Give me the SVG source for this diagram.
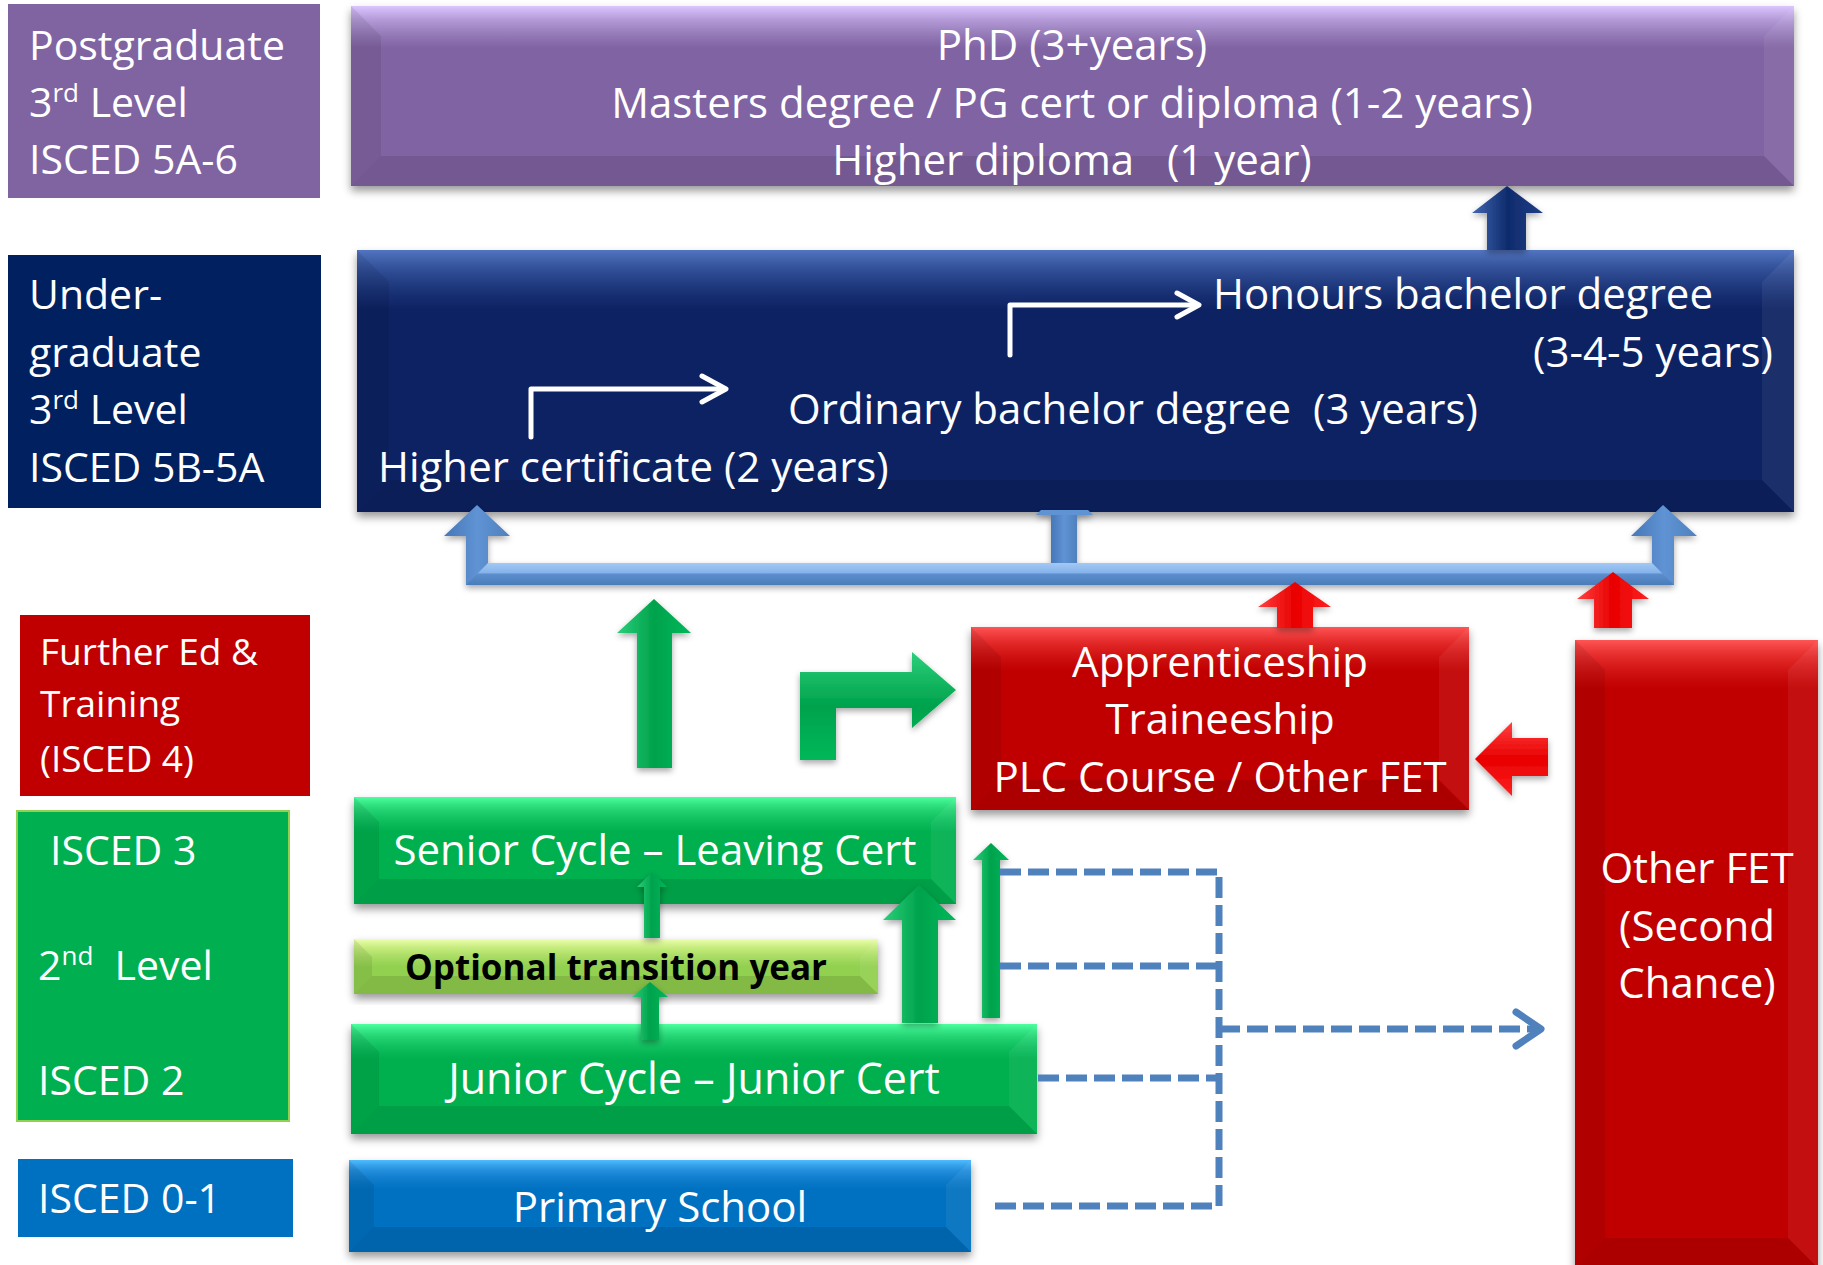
<svg xmlns="http://www.w3.org/2000/svg" width="1823" height="1265" viewBox="0 0 1823 1265">
<defs>
<style>
text{font-family:"Open Sans","Noto Sans","Liberation Sans",sans-serif;fill:#fff;font-size:42px}
.l{font-size:41px}
.c{text-anchor:middle}
.e{text-anchor:end}
.s{font-size:37px}
.b{font-weight:700;font-size:35px;fill:#000}
.sup{font-size:26px}
.dash{fill:none;stroke:#4F81BD;stroke-width:7;stroke-dasharray:21 7}
.chev{fill:none;stroke:#4F81BD;stroke-width:7;stroke-linecap:round;stroke-linejoin:round}
.wa{fill:none;stroke:#fff;stroke-width:5;stroke-linecap:round;stroke-linejoin:round}
.fl{fill:#000;opacity:.08}
.fr{fill:#fff;opacity:.06}
.fb{fill:#000;opacity:.1}
</style>
<filter id="sh" x="-5%" y="-10%" width="110%" height="130%"><feDropShadow dx="0" dy="5" stdDeviation="4" flood-color="#000" flood-opacity="0.4"/></filter>
<filter id="sh2" x="-10%" y="-10%" width="120%" height="130%"><feDropShadow dx="0" dy="3" stdDeviation="3" flood-color="#000" flood-opacity="0.35"/></filter>
<linearGradient id="bPur" x1="0" y1="0" x2="0" y2="1"><stop offset="0" stop-color="#DCC6FF"/><stop offset="0.35" stop-color="#C7B0EC" stop-opacity="0.7"/><stop offset="1" stop-color="#B69CDB" stop-opacity="0"/></linearGradient>
<linearGradient id="bNav" x1="0" y1="0" x2="0" y2="1"><stop offset="0" stop-color="#5275C2"/><stop offset="0.35" stop-color="#3E5FAA" stop-opacity="0.7"/><stop offset="1" stop-color="#2A4A96" stop-opacity="0"/></linearGradient>
<linearGradient id="bRed" x1="0" y1="0" x2="0" y2="1"><stop offset="0" stop-color="#FF5555"/><stop offset="0.35" stop-color="#F23A3A" stop-opacity="0.7"/><stop offset="1" stop-color="#E02020" stop-opacity="0"/></linearGradient>
<linearGradient id="bGrn" x1="0" y1="0" x2="0" y2="1"><stop offset="0" stop-color="#4DFF9E"/><stop offset="0.35" stop-color="#35E585" stop-opacity="0.7"/><stop offset="1" stop-color="#20D070" stop-opacity="0"/></linearGradient>
<linearGradient id="bOpt" x1="0" y1="0" x2="0" y2="1"><stop offset="0" stop-color="#EEFFB0"/><stop offset="0.35" stop-color="#D6F58C" stop-opacity="0.7"/><stop offset="1" stop-color="#C0E878" stop-opacity="0"/></linearGradient>
<linearGradient id="bBlu" x1="0" y1="0" x2="0" y2="1"><stop offset="0" stop-color="#50BCFF"/><stop offset="0.35" stop-color="#329BE8" stop-opacity="0.7"/><stop offset="1" stop-color="#1A86D6" stop-opacity="0"/></linearGradient>
<linearGradient id="aG" x1="0" y1="0" x2="1" y2="0"><stop offset="0" stop-color="#2BCF7A"/><stop offset="0.5" stop-color="#00A24C"/><stop offset="1" stop-color="#00B85A"/></linearGradient>
<linearGradient id="aGh" x1="0" y1="0" x2="0" y2="1"><stop offset="0" stop-color="#2BCF7A"/><stop offset="0.5" stop-color="#00A24C"/><stop offset="1" stop-color="#00B85A"/></linearGradient>
<linearGradient id="aR" x1="0" y1="0" x2="1" y2="0"><stop offset="0" stop-color="#FF4040"/><stop offset="0.5" stop-color="#E80000"/><stop offset="1" stop-color="#FF2020"/></linearGradient>
<linearGradient id="aRh" x1="0" y1="0" x2="0" y2="1"><stop offset="0" stop-color="#FF4040"/><stop offset="0.5" stop-color="#E80000"/><stop offset="1" stop-color="#FF2020"/></linearGradient>
<linearGradient id="aN" x1="0" y1="0" x2="1" y2="0"><stop offset="0" stop-color="#4267B2"/><stop offset="0.5" stop-color="#0F2B6C"/><stop offset="1" stop-color="#1E3E88"/></linearGradient>
<linearGradient id="aB" x1="0" y1="0" x2="1" y2="0"><stop offset="0" stop-color="#4677B8"/><stop offset="0.5" stop-color="#5F93D4"/><stop offset="1" stop-color="#4F81BD"/></linearGradient>
<linearGradient id="gBar" x1="0" y1="0" x2="0" y2="1"><stop offset="0" stop-color="#A2C9F5"/><stop offset="0.45" stop-color="#84B2EA"/><stop offset="0.5" stop-color="#5C8ECD"/><stop offset="1" stop-color="#4A7CBA"/></linearGradient>
</defs>
<rect width="1823" height="1265" fill="#fff"/>

<g id="level-labels">
<g id="label-postgraduate">
<rect x="8" y="4" width="312" height="194" fill="#8064A2"/>
<text class="l" x="29" y="60">Postgraduate</text>
<text class="l" x="29" y="117">3<tspan class="sup" dy="-15">rd</tspan><tspan dy="15"> Level</tspan></text>
<text class="l" x="29" y="174">ISCED 5A-6</text>
</g>
<g id="label-undergraduate">
<rect x="8" y="255" width="313" height="253" fill="#002060"/>
<text class="l" x="29" y="309">Under-</text>
<text class="l" x="29" y="367">graduate</text>
<text class="l" x="29" y="424">3<tspan class="sup" dy="-15">rd</tspan><tspan dy="15"> Level</tspan></text>
<text class="l" x="29" y="482">ISCED 5B-5A</text>
</g>
<g id="label-further-ed">
<rect x="20" y="615" width="290" height="181" fill="#C00000"/>
<text class="s" x="40" y="665">Further Ed &amp;</text>
<text class="s" x="40" y="717">Training</text>
<text class="s" x="40" y="772">(ISCED 4)</text>
</g>
<g id="label-second-level">
<rect x="17" y="811" width="272" height="310" fill="#00B050" stroke="#92D050" stroke-width="2"/>
<text class="l" x="50" y="865">ISCED 3</text>
<text class="l" x="38" y="980" xml:space="preserve">2<tspan class="sup" dy="-15">nd</tspan><tspan dy="15">  Level</tspan></text>
<text class="l" x="38" y="1095">ISCED 2</text>
</g>
<g id="label-primary">
<rect x="18" y="1159" width="275" height="78" fill="#0070C0"/>
<text class="l" x="38" y="1213">ISCED 0-1</text>
</g>
</g>

<g id="nodes">
<g id="phd">
<rect x="351" y="6" width="1443" height="180" fill="#8064A2" filter="url(#sh)"/>
<rect x="351" y="6" width="1443" height="42" fill="url(#bPur)"/>
<polygon class="fl" points="351,6 381,36 381,156 351,186"/>
<polygon class="fr" points="1794,6 1764,36 1764,156 1794,186"/>
<polygon class="fb" points="351,186 381,156 1764,156 1794,186"/>
<text class="c" x="1072" y="60">PhD (3+years)</text>
<text class="c" x="1072" y="118">Masters degree / PG cert or diploma (1-2 years)</text>
<text class="c" x="1072" y="175" xml:space="preserve">Higher diploma   (1 year)</text>
</g>
<g id="undergraduate">
<rect x="357" y="250" width="1437" height="262" fill="#0B2362" filter="url(#sh)"/>
<rect x="357" y="250" width="1437" height="60" fill="url(#bNav)"/>
<polygon class="fl" points="357,250 389,282 389,480 357,512"/>
<polygon class="fr" points="1794,250 1762,282 1762,480 1794,512"/>
<polygon class="fb" points="357,512 389,480 1762,480 1794,512"/>
<text x="1213" y="309">Honours bachelor degree</text>
<text class="e" x="1773" y="367">(3-4-5 years)</text>
<text x="788" y="424" xml:space="preserve">Ordinary bachelor degree  (3 years)</text>
<text x="378" y="482">Higher certificate (2 years)</text>
</g>
<g id="apprenticeship">
<rect x="971" y="627" width="498" height="183" fill="#C00000" filter="url(#sh)"/>
<rect x="971" y="627" width="498" height="45" fill="url(#bRed)"/>
<polygon class="fl" points="971,627 1001,657 1001,780 971,810"/>
<polygon class="fr" points="1469,627 1439,657 1439,780 1469,810"/>
<polygon class="fb" points="971,810 1001,780 1439,780 1469,810"/>
<text class="c" x="1220" y="677">Apprenticeship</text>
<text class="c" x="1220" y="734">Traineeship</text>
<text class="c" x="1220" y="792">PLC Course / Other FET</text>
</g>
<g id="other-fet">
<rect x="1575" y="640" width="243" height="628" fill="#C00000" filter="url(#sh)"/>
<rect x="1575" y="640" width="243" height="50" fill="url(#bRed)"/>
<polygon class="fl" points="1575,640 1605,670 1605,1238 1575,1268"/>
<polygon class="fr" points="1818,640 1788,670 1788,1238 1818,1268"/>
<polygon class="fb" points="1575,1268 1605,1238 1788,1238 1818,1268"/>
<text class="c" x="1697" y="883">Other FET</text>
<text class="c" x="1697" y="941">(Second</text>
<text class="c" x="1697" y="998">Chance)</text>
</g>
<g id="senior-cycle">
<rect x="354" y="797" width="602" height="107" fill="#00B050" filter="url(#sh)"/>
<rect x="354" y="797" width="602" height="35" fill="url(#bGrn)"/>
<polygon class="fl" points="354,797 379,822 379,879 354,904"/>
<polygon class="fr" points="956,797 931,822 931,879 956,904"/>
<polygon class="fb" points="354,904 379,879 931,879 956,904"/>
<text class="c" x="655" y="865">Senior Cycle – Leaving Cert</text>
</g>
<g id="optional-transition-year">
<rect x="354" y="939" width="524" height="55" fill="#92D050" filter="url(#sh)"/>
<rect x="354" y="939" width="524" height="28" fill="url(#bOpt)"/>
<polygon class="fl" points="354,939 372,957 372,976 354,994"/>
<polygon class="fr" points="878,939 860,957 860,976 878,994"/>
<polygon class="fb" points="354,994 372,976 860,976 878,994"/>
<text class="c b" x="616" y="980">Optional transition year</text>
</g>
<g id="junior-cycle">
<rect x="351" y="1024" width="686" height="110" fill="#00B050" filter="url(#sh)"/>
<rect x="351" y="1024" width="686" height="35" fill="url(#bGrn)"/>
<polygon class="fl" points="351,1024 379,1052 379,1106 351,1134"/>
<polygon class="fr" points="1037,1024 1009,1052 1009,1106 1037,1134"/>
<polygon class="fb" points="351,1134 379,1106 1009,1106 1037,1134"/>
<text class="c" x="694" y="1094" style="font-size:43px">Junior Cycle – Junior Cert</text>
</g>
<g id="primary-school">
<rect x="349" y="1160" width="622" height="92" fill="#0070C0" filter="url(#sh)"/>
<rect x="349" y="1160" width="622" height="30" fill="url(#bBlu)"/>
<polygon class="fl" points="349,1160 374,1185 374,1227 349,1252"/>
<polygon class="fr" points="971,1160 946,1185 946,1227 971,1252"/>
<polygon class="fb" points="349,1252 374,1227 946,1227 971,1252"/>
<text class="c" x="660" y="1222">Primary School</text>
</g>
</g>

<g id="connectors">
<g id="block-arrows" filter="url(#sh2)">
<polygon fill="url(#aN)" points="1487,250 1487,213 1472,213 1507,186 1543,213 1526,213 1526,250"/>
<rect x="1051" y="512" width="26" height="52" fill="url(#aB)"/>
<polygon fill="#5F93D4" points="1036,515 1093,515 1088,510 1041,510"/>
<rect x="466" y="563" width="1208" height="22" fill="url(#gBar)"/>
<polygon fill="url(#aB)" points="466,585 466,536 444,536 477,505 510,536 488,536 488,563"/>
<polygon fill="url(#aB)" points="1674,585 1674,536 1697,536 1663,505 1631,536 1652,536 1652,563"/>
<polygon fill="url(#aR)" points="1277,628 1277,607 1258,607 1295,582 1331,607 1313,607 1313,628"/>
<polygon fill="url(#aR)" points="1594,628 1594,599 1577,599 1613,572 1649,599 1632,599 1632,628"/>
<polygon fill="url(#aRh)" points="1548,738 1512,738 1512,722 1475,759 1512,796 1512,776 1548,776"/>
<polygon fill="url(#aG)" points="637,768 637,633 617,633 654,599 691,633 672,633 672,768"/>
<polygon fill="url(#aGh)" points="800,760 800,672 912,672 912,652 956,690 912,728 912,708 836,708 836,760"/>
<polygon fill="url(#aG)" points="644,938 644,887 637,887 652,872 667,887 660,887 660,938"/>
<polygon fill="url(#aG)" points="641,1040 641,997 632,997 650,982 668,997 659,997 659,1040"/>
<polygon fill="url(#aG)" points="902,1023 902,920 883,920 919,885 956,920 938,920 938,1023"/>
<polygon fill="url(#aG)" points="982,1018 982,860 973,860 991,843 1009,860 1000,860 1000,1018"/>
</g>
<g id="white-arrows">
<path class="wa" d="M531 437 V389 H724"/>
<path class="wa" d="M702 376 L726 389 L702 402"/>
<path class="wa" d="M1010 355 V305 H1197"/>
<path class="wa" d="M1177 293 L1199 305 L1177 317"/>
</g>
<g id="dashed-links">
<path class="dash" d="M1000 872 H1219 V1206 H992"/>
<path class="dash" d="M1000 966 H1219"/>
<path class="dash" d="M1038 1078 H1219"/>
<path class="dash" d="M1219 1029 H1536"/>
<path class="chev" d="M1516 1012 L1541 1029 L1516 1046"/>
</g>
</g>
</svg>
